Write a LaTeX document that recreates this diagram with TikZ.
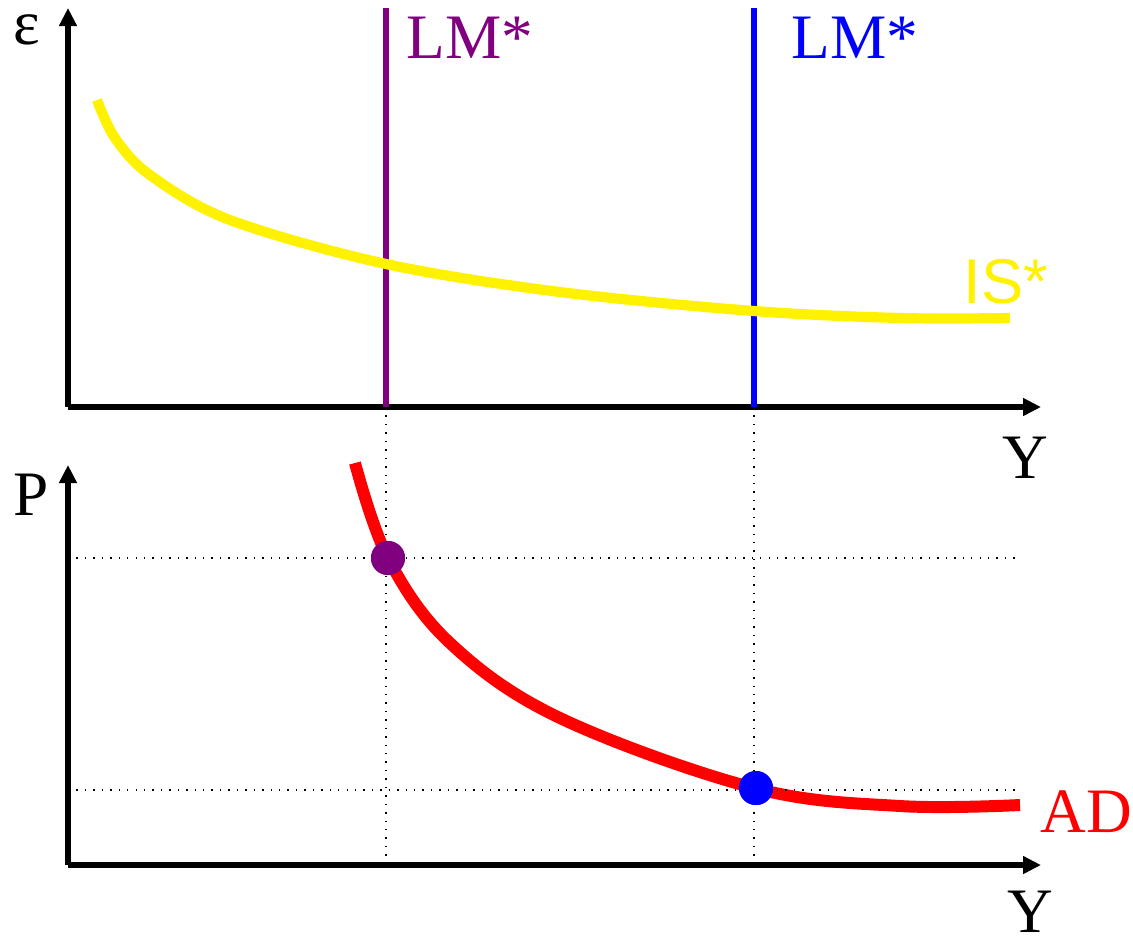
\documentclass[tikz,border=0pt]{standalone}
\usepackage{fontspec}
\setmainfont{Liberation Serif}
\newfontfamily\isfont{Liberation Sans}
\usetikzlibrary{positioning,arrows.meta}
\definecolor{lmpurple}{RGB}{128,0,128}

\begin{document}
\begin{tikzpicture}[x=0.01cm, y=-0.01cm,
    axis/.style={line width=1.5pt, -{Triangle[length=1.8mm, width=1.7mm]}},
    lmline/.style={draw=#1, line width=1.7pt},
    guide/.style={dotted, line width=0.4pt},
    lab/.style={font=\fontsize{18}{20}\selectfont, inner sep=0pt},
    eqdot/.style={circle, fill=#1, minimum size=3.4mm, inner sep=0pt}
]
\useasboundingbox (0,0) rectangle (1133,944);

% Top panel: exchange rate vs income
\coordinate (o1) at (68,407);
\coordinate (e1) at (68,8);
\coordinate (y1) at (1041,407);
\draw[axis] (o1) -- (e1);
\draw[axis] (o1) -- (y1);
\node[lab] (eps) at (27,30) {ε};
\node[lab] (ylabtop) at (1025,458) {Y};

% LM* curves
\coordinate (lma) at (386,8);
\coordinate (lmabot) at (386,407);
\coordinate (lmb) at (754,8);
\coordinate (lmbbot) at (754,407);
\draw[lmline=lmpurple] (lma) -- (lmabot);
\draw[lmline=blue] (lmb) -- (lmbbot);
\node[lab, text=lmpurple] (lmalab) at (470,38) {LM*};
\node[lab, text=blue] (lmblab) at (855,38) {LM*};

% IS* curve
\draw[yellow, line width=2.9pt] plot[smooth, tension=0.55] coordinates
  {(97,100) (115,138) (150,175) (230,220) (386,264) (560,292) (754,311) (900,318) (1010,318)};
\node[lab, text=yellow, font=\isfont\fontsize{18}{20}\selectfont] (islab) at (1006,282) {IS*};

% Bottom panel: price level vs income
\coordinate (o2) at (68,865);
\coordinate (p2) at (68,465);
\coordinate (y2) at (1041,865);
\draw[axis] (o2) -- (p2);
\draw[axis] (o2) -- (y2);
\node[lab] (plab) at (31,495) {P};
\node[lab] (ylabbot) at (1030,912) {Y};

% AD curve
\draw[red, line width=3.4pt] plot[smooth, tension=0.6] coordinates
  {(355,463) (388,558) (450,643) (560,718) (754,788) (900,806) (1020,805)};
\node[lab, text=red] (adlab) at (1086,812) {AD};

% Equilibrium points and guides
\node[eqdot=lmpurple] (pa) at (388,558) {};
\node[eqdot=blue] (pb) at (756,788) {};
\coordinate (pax) at (68,558);
\coordinate (paend) at (1020,558);
\coordinate (pbx) at (68,790);
\coordinate (pbend) at (1020,790);
\coordinate (ya) at (386,865);
\coordinate (yb) at (754,865);
\draw[guide] (pax) -- (paend);
\draw[guide] (pbx) -- (pbend);
\draw[guide] (lmabot) -- (ya);
\draw[guide] (lmbbot) -- (yb);
\node[eqdot=lmpurple] at (pa) {};
\node[eqdot=blue] at (pb) {};

\end{tikzpicture}
\end{document}
